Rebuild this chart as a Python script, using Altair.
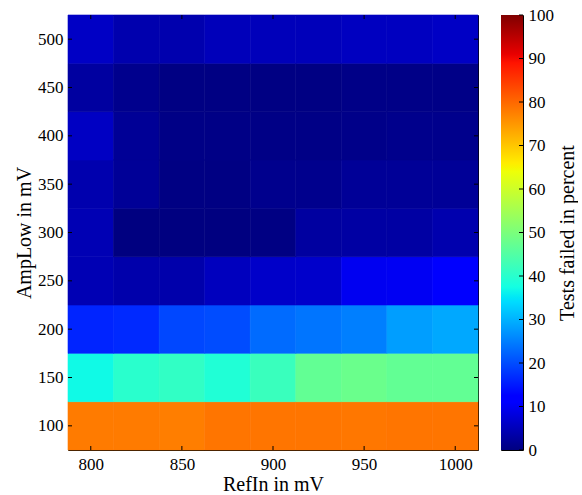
import altair as alt
import pandas as pd

# Grid axes (mV)
ref_in = [800, 825, 850, 875, 900, 925, 950, 975, 1000]
amp_low = [100, 150, 200, 250, 300, 350, 400, 450, 500]

# Percentage of failed tests, one row per AmpLow value (bottom to top)
fail_100 = [78, 78, 77.7, 78.6, 78.6, 78.6, 78.4, 78.6, 78.6]
fail_150 = [37, 40, 41, 39, 42, 47, 48, 47, 47]
fail_200 = [16, 16.5, 19.5, 20, 23, 24, 25, 28, 29]
fail_250 = [4.5, 3.7, 3.7, 5.4, 6.3, 6.5, 9.8, 10, 11]
fail_300 = [4.5, 0, 0, 0, 0.3, 2.8, 3, 3, 4]
fail_350 = [4, 2, 0.3, 0.3, 1.1, 1.1, 2, 2, 2]
fail_400 = [5.8, 1.9, 0.5, 0.5, 0.5, 0.5, 0.8, 1, 1]
fail_450 = [2.8, 1.1, 0.3, 0.3, 0.3, 0.3, 0.6, 0.6, 0.6]
fail_500 = [6, 4, 4, 5, 5, 5, 5.5, 5.5, 6]
fail_rows = [fail_100, fail_150, fail_200, fail_250, fail_300,
             fail_350, fail_400, fail_450, fail_500]

x_ticks = [800, 850, 900, 950, 1000]
y_ticks = [100, 150, 200, 250, 300, 350, 400, 450, 500]
cbar_ticks = [0, 10, 20, 30, 40, 50, 60, 70, 80, 90, 100]

# Jet colormap control points (percent -> colour)
jet_domain = [0, 11, 12.5, 34, 35, 37.5, 64, 65, 66, 89, 91, 100]
jet_colors = ["#000080", "#0000ff", "#0000ff", "#00dbff", "#00e6f7", "#14ffe2",
              "#eeff08", "#f7f500", "#ffec00", "#ff1300", "#e80000", "#800000"]

records = []
for a, row in zip(amp_low, fail_rows):
    for r, v in zip(ref_in, row):
        records.append({"refin": r, "amplow": a, "fail": v})
df = pd.DataFrame(records)

W, H = 410, 435
FONT = "Liberation Serif"
jet_scale = alt.Scale(domain=jet_domain, range=jet_colors, interpolate="rgb")

heat = alt.Chart(df).transform_calculate(
    x0="datum.refin - 12.5", x1="datum.refin + 12.5",
    y0="datum.amplow - 25", y1="datum.amplow + 25",
).mark_rect(strokeWidth=0.6).encode(
    x=alt.X("x0:Q", title="RefIn in mV",
            scale=alt.Scale(domain=[787.5, 1012.5], nice=False, zero=False),
            axis=alt.Axis(values=x_ticks, format="d", ticks=False, tickSize=0,
                          domain=False, grid=False, labelPadding=6,
                          titleY=40, titleBaseline="alphabetic")),
    x2="x1:Q",
    y=alt.Y("y0:Q", title="AmpLow in mV",
            scale=alt.Scale(domain=[75, 525], nice=False, zero=False),
            axis=alt.Axis(values=y_ticks, format="d", ticks=False, tickSize=0,
                          domain=False, grid=False, labelPadding=5,
                          titleAngle=270, titleX=-44, titleY=H / 2,
                          titleBaseline="middle", titleAlign="center")),
    y2="y1:Q",
    color=alt.Color("fail:Q", legend=None, scale=jet_scale),
    stroke=alt.Stroke("fail:Q", legend=None, scale=jet_scale),
)

xt = pd.DataFrame({"t": x_ticks})
yt = pd.DataFrame({"t": y_ticks})
tick_style = dict(color="black", strokeWidth=1)
xb = alt.Chart(xt).mark_rule(**tick_style).encode(x="t:Q", y=alt.value(H), y2=alt.value(H - 4))
xtop = alt.Chart(xt).mark_rule(**tick_style).encode(x="t:Q", y=alt.value(0), y2=alt.value(4))
yl = alt.Chart(yt).mark_rule(**tick_style).encode(y="t:Q", x=alt.value(0), x2=alt.value(4))
yr = alt.Chart(yt).mark_rule(**tick_style).encode(y="t:Q", x=alt.value(W), x2=alt.value(W - 4))

main = alt.layer(heat, xb, xtop, yl, yr).properties(width=W, height=H)

# Colour bar: one rect filled with the jet gradient
stops = [{"offset": d / 100, "color": c} for d, c in zip(jet_domain, jet_colors)]
gradient = {"gradient": "linear", "x1": 0, "y1": 1, "x2": 0, "y2": 0, "stops": stops}
CW = 22
bar = alt.Chart(pd.DataFrame({"lo": [0], "hi": [100]})).mark_rect().encode(
    y=alt.Y("lo:Q", title="Tests failed in percent",
            scale=alt.Scale(domain=[0, 100], nice=False),
            axis=alt.Axis(orient="right", values=cbar_ticks, ticks=False, tickSize=0,
                          domain=False, grid=False, labelPadding=5,
                          titleAngle=270, titleX=44, titleY=H / 2,
                          titleBaseline="middle", titleAlign="center")),
    y2="hi:Q",
    x=alt.value(0), x2=alt.value(CW),
    fill=alt.value(gradient),
)
ct = alt.Chart(pd.DataFrame({"t": cbar_ticks})).mark_rule(**tick_style).encode(
    y="t:Q", x=alt.value(CW), x2=alt.value(CW - 4))
cbar = alt.layer(bar, ct).properties(width=CW, height=H)

chart = alt.hconcat(main, cbar, spacing=21).properties(
    padding={"left": 13, "top": 5, "right": 0, "bottom": 0},
    background="white",
).configure_view(
    stroke="black", strokeWidth=1
).configure_axis(
    labelFont=FONT, labelFontSize=17, labelColor="black",
    titleFont=FONT, titleFontSize=20, titleFontWeight="normal", titleColor="black",
)

chart.save("out.html", embed_options={"renderer": "svg", "actions": False})
